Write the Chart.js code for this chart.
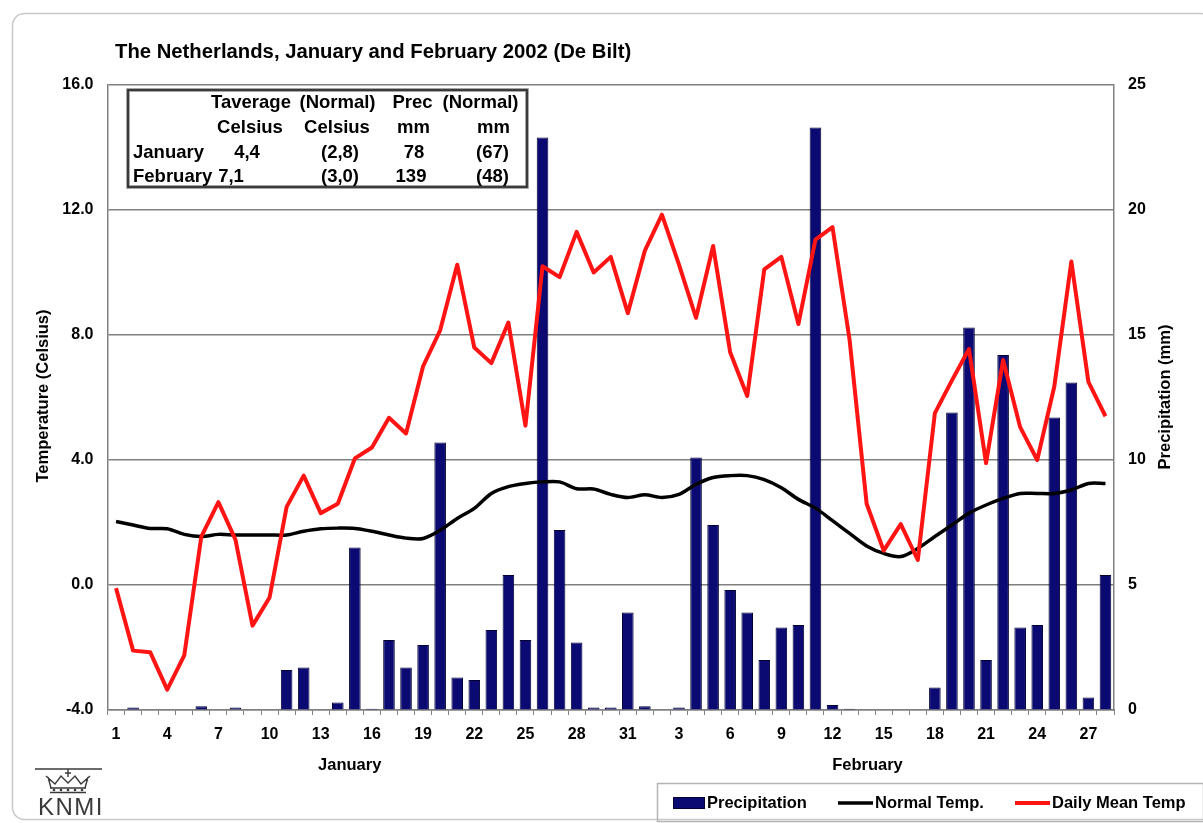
<!DOCTYPE html>
<html><head><meta charset="utf-8">
<script src="https://cdn.jsdelivr.net/npm/chart.js@4.4.1/dist/chart.umd.min.js"></script>
<style>html,body{margin:0;padding:0;background:#fff;}canvas{display:block;}</style>
</head><body>
<canvas id="c" width="1203" height="823"></canvas>
<script>
// ---- data ----
const dayLabels = ['1','2','3','4','5','6','7','8','9','10','11','12','13','14','15','16','17','18','19','20','21','22','23','24','25','26','27','28','29','30','31',
  '1','2','3','4','5','6','7','8','9','10','11','12','13','14','15','16','17','18','19','20','21','22','23','24','25','26','27','28'];
const precipitation = [0,0.1,0,0,0,0.15,0,0.1,0,0,1.6,1.7,0,0.3,6.5,0.05,2.8,1.7,2.6,10.7,1.3,1.2,3.2,5.4,2.8,22.9,7.2,2.7,0.1,0.1,3.9,
  0.15,0,0.1,10.1,7.4,4.8,3.9,2.0,3.3,3.4,23.3,0.2,0.05,0,0,0,0,0.9,11.9,15.3,2.0,14.2,3.3,3.4,11.7,13.1,0.5,5.4];
const dailyMeanTemp = [-0.1,-2.1,-2.15,-3.35,-2.25,1.55,2.65,1.45,-1.3,-0.4,2.5,3.5,2.3,2.6,4.05,4.4,5.35,4.85,7.0,8.15,10.25,7.6,7.1,8.4,5.1,10.2,9.85,11.3,10.0,10.5,8.7,
  10.7,11.85,10.25,8.55,10.85,7.45,6.05,10.1,10.5,8.35,11.05,11.45,7.85,2.6,1.1,1.95,0.8,5.5,6.55,7.55,3.9,7.2,5.05,4.0,6.35,10.35,6.5,5.4];
const normalTemp = [2.03,1.92,1.81,1.8,1.62,1.55,1.62,1.6,1.6,1.6,1.6,1.72,1.8,1.82,1.81,1.72,1.6,1.5,1.49,1.75,2.13,2.45,2.93,3.15,3.25,3.3,3.3,3.08,3.07,2.9,2.8,
  2.89,2.8,2.9,3.22,3.44,3.5,3.5,3.37,3.11,2.74,2.46,2.06,1.65,1.25,1.01,0.91,1.17,1.55,1.92,2.3,2.56,2.77,2.93,2.93,2.93,3.04,3.25,3.25];
const monthLabels = ['January','February'];
const tableHeader = [['Taverage','(Normal)','Prec','(Normal)'],['Celsius','Celsius','mm','mm']];
const tableRows = [['January','4,4','(2,8)','78','(67)'],['February','7,1','(3,0)','139','(48)']];
const legendLabels = ['Precipitation','Normal Temp.','Daily Mean Temp'];
const titleText = 'The Netherlands, January and February 2002 (De Bilt)';
const axisTitles = ['Temperature (Celsius)','Precipitation (mm)'];

const fam = '"Liberation Sans", Arial, Helvetica, sans-serif';
const RED = '#ff1414', NAVY = '#0a0a72';

const decor = {
  id: 'decor',
  beforeDraw(chart) {
    const c = chart.ctx;
    c.save();
    c.fillStyle = '#fff';
    c.fillRect(0, 0, chart.width, chart.height);
    c.strokeStyle = '#c8c8c8';
    c.lineWidth = 1.5;
    c.beginPath();
    c.roundRect(12.5, 13.5, 1200, 806, 12);
    c.stroke();
    c.restore();
  },
  afterDraw(chart) {
    const c = chart.ctx;
    const xs = chart.scales.x;
    c.save();
    c.fillStyle = '#000';
    c.textBaseline = 'middle';
    // title
    c.font = 'bold 20.3px ' + fam;
    c.textAlign = 'left';
    c.fillText(titleText, 115, 52);
    // table
    c.fillStyle = '#fff';
    c.fillRect(128, 90, 399, 97);
    c.strokeStyle = '#8a8a8a';
    c.lineWidth = 3.5;
    c.strokeRect(128, 90, 399, 97);
    c.strokeStyle = '#222';
    c.lineWidth = 1.5;
    c.strokeRect(128, 90, 399, 97);
    c.fillStyle = '#000';
    c.font = 'bold 18.5px ' + fam;
    c.textAlign = 'center';
    const hx = [251, 337.5, 412.5, 480.5];
    const hx2 = [250, 337, 413.5, 493.5];
    tableHeader[0].forEach((t, i) => c.fillText(t, hx[i], 103));
    tableHeader[1].forEach((t, i) => c.fillText(t, hx2[i], 128));
    const rx = [[247, 340, 414, 492.5], [231, 340, 411, 492.5]];
    const ry = [153, 177];
    tableRows.forEach((row, r) => {
      c.textAlign = 'left';
      c.fillText(row[0], 133, ry[r]);
      c.textAlign = 'center';
      row.slice(1).forEach((t, i) => c.fillText(t, rx[r][i], ry[r]));
    });
    // axis titles
    c.font = 'bold 16.5px ' + fam;
    c.save();
    c.translate(43, 396);
    c.rotate(-Math.PI / 2);
    c.fillText(axisTitles[0], 0, 0);
    c.restore();
    c.save();
    c.translate(1165, 397);
    c.rotate(-Math.PI / 2);
    c.fillText(axisTitles[1], 0, 0);
    c.restore();
    // month labels
    c.fillText(monthLabels[0], xs.getPixelForValue(13.7), 765);
    c.fillText(monthLabels[1], xs.getPixelForValue(44.05), 765);
    // legend
    c.strokeStyle = '#b4b4b4';
    c.lineWidth = 1.5;
    c.strokeRect(657.5, 783.5, 546, 38);
    c.fillStyle = NAVY;
    c.fillRect(673, 797, 32, 12);
    c.strokeStyle = '#000033';
    c.lineWidth = 1;
    c.strokeRect(673.5, 797.5, 31, 11);
    c.lineCap = 'butt';
    c.strokeStyle = '#000';
    c.lineWidth = 3.5;
    c.beginPath(); c.moveTo(838, 803); c.lineTo(873, 803); c.stroke();
    c.strokeStyle = RED;
    c.lineWidth = 4;
    c.beginPath(); c.moveTo(1015, 803); c.lineTo(1050, 803); c.stroke();
    c.fillStyle = '#000';
    c.textAlign = 'left';
    c.font = 'bold 16.5px ' + fam;
    c.fillText(legendLabels[0], 707, 803);
    c.fillText(legendLabels[1], 875, 803);
    c.fillText(legendLabels[2], 1052, 803);
    // KNMI logo
    c.strokeStyle = '#3a3a3a';
    c.lineWidth = 1.5;
    c.beginPath(); c.moveTo(35, 769); c.lineTo(102, 769); c.stroke();
    c.lineWidth = 1.4;
    c.beginPath();
    c.moveTo(68, 769); c.lineTo(68, 777);
    c.moveTo(65, 773); c.lineTo(71, 773);
    c.moveTo(46, 776); c.lineTo(55, 784); c.lineTo(61, 776); c.lineTo(68, 783); c.lineTo(75, 776); c.lineTo(81, 784); c.lineTo(90, 776);
    c.moveTo(48, 777); c.lineTo(51, 788);
    c.moveTo(88, 777); c.lineTo(85, 788);
    c.moveTo(50, 788); c.lineTo(86, 788);
    c.moveTo(50, 792.5); c.lineTo(86, 792.5);
    c.stroke();
    c.fillStyle = '#3a3a3a';
    [54, 61, 68, 75, 82].forEach(px => { c.beginPath(); c.arc(px, 790, 1.3, 0, Math.PI * 2); c.fill(); });
    c.font = '24px ' + fam;
    c.textAlign = 'center';
    if ('letterSpacing' in c) c.letterSpacing = '1.5px';
    c.fillText('KNMI', 71, 808);
    c.restore();
  }
};

const tickFont = { family: fam, weight: 'bold', size: 16 };

new Chart(document.getElementById('c'), {
  type: 'bar',
  data: {
    labels: dayLabels,
    datasets: [
      { type: 'line', label: legendLabels[2], data: dailyMeanTemp, yAxisID: 'yT', borderColor: RED, borderWidth: 4,
        pointRadius: 0, tension: 0, order: 1, borderJoinStyle: 'round' },
      { type: 'line', label: legendLabels[1], data: normalTemp, yAxisID: 'yT', borderColor: '#000', borderWidth: 3.5,
        pointRadius: 0, tension: 0.3, order: 2 },
      { type: 'bar', label: legendLabels[0], data: precipitation, yAxisID: 'yP', backgroundColor: NAVY,
        borderColor: '#000033', borderWidth: 1, barPercentage: 0.68, categoryPercentage: 1, order: 3 }
    ]
  },
  options: {
    responsive: false,
    animation: false,
    devicePixelRatio: 1,
    layout: { padding: { left: 0, right: 0, top: 85, bottom: 0 } },
    plugins: { legend: { display: false }, title: { display: false }, tooltip: { enabled: false } },
    scales: {
      x: {
        offset: true,
        grid: { offset: true, drawOnChartArea: false, drawTicks: true, tickLength: 5, color: '#808080', lineWidth: 1 },
        border: { display: true, color: '#808080', width: 1.5 },
        ticks: { autoSkip: false, maxRotation: 0, minRotation: 0, padding: 10, color: '#000', font: tickFont,
          callback: (v, i) => (i % 3 === 0 ? dayLabels[i] : '') },
        afterFit: s => { s.height = 113; }
      },
      yT: {
        position: 'left', min: -4, max: 16,
        ticks: { stepSize: 4, padding: 14, color: '#000', font: tickFont, callback: v => Number(v).toFixed(1) },
        grid: { color: '#808080', lineWidth: 1.5, drawTicks: false },
        border: { display: true, color: '#808080', width: 1.5 },
        afterFit: s => { s.width = 107.5; }
      },
      yP: {
        position: 'right', min: 0, max: 25,
        ticks: { stepSize: 5, padding: 14, color: '#000', font: tickFont },
        grid: { drawOnChartArea: false, drawTicks: false },
        border: { display: true, color: '#808080', width: 1.5 },
        afterFit: s => { s.width = 89; }
      }
    }
  },
  plugins: [decor]
});
</script>
</body></html>
